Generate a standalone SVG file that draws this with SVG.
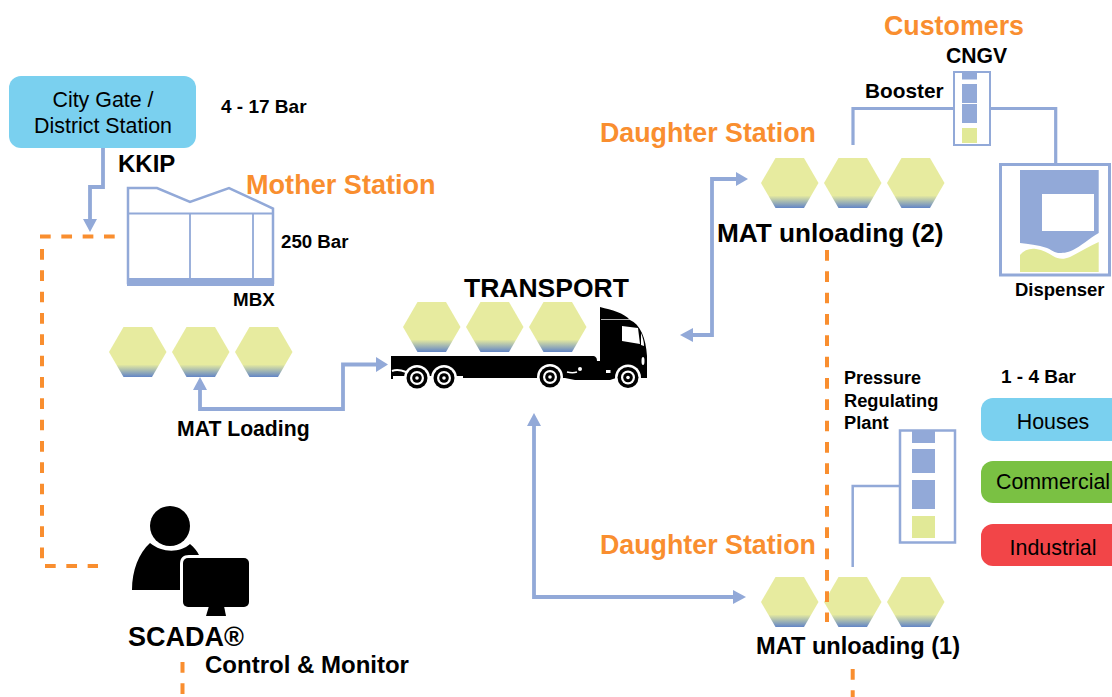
<svg xmlns="http://www.w3.org/2000/svg" width="1112" height="697" viewBox="0 0 1112 697">
<style>
text{font-family:"Liberation Sans",Arial,sans-serif;font-weight:700;fill:#000}
.o{fill:#f98e2f;font-size:26.800px}
.n{font-weight:400;font-size:21.400px;text-anchor:middle}
.b{font-size:18.700px}
.w{fill:none;stroke:#92a9d8;stroke-width:3.200}
.t{fill:none;stroke:#92a9d8;stroke-width:3.800}
.d{fill:none;stroke:#f98e2f;stroke-width:4;stroke-dasharray:10.700 10.630}
.a{fill:#92a9d8}
.f{fill:#92a9d8}
.y{fill:#e1e997}
</style>
<defs>
<linearGradient id="g" x1="0" y1="0" x2="0" y2="1"><stop offset="0.75" stop-color="#e7eb9f"/><stop offset="1" stop-color="#6285c6"/></linearGradient>
<polygon id="hex" points="0,25 14.500,0 43,0 57.500,25 43,50 14.500,50" fill="url(#g)"/>
<g id="wheel"><circle r="13" fill="#fff"/><circle r="10.500" fill="#000"/><circle r="7" fill="#fff"/><circle r="4.800" fill="#000"/><circle r="1.800" fill="#fff"/></g>
</defs>

<g id="city-gate">
<rect x="9" y="76" width="187" height="72" rx="12" fill="#7ad0ef"/>
<text class="n" x="103" y="107">City Gate /</text>
<text class="n" x="103" y="133">District Station</text>
</g>

<g id="mother-station">
<path d="M128 188H157L190 202L229 188L273 208.500V283H128Z" fill="#fff" stroke="#92a9d8" stroke-width="2.500"/>
<path d="M128 213.500H273M190 213.500V281M253 213.500V281" fill="none" stroke="#92a9d8" stroke-width="1.800"/>
<rect x="127" y="278" width="147" height="8" class="f"/>
</g>

<g id="hexes-loading">
<use href="#hex" x="109" y="327"/><use href="#hex" x="172" y="327"/><use href="#hex" x="235" y="327"/>
</g>

<g id="truck">
<use href="#hex" x="403" y="302"/><use href="#hex" x="466" y="302"/><use href="#hex" x="529" y="302"/>
<path d="M391 356H592C596 356 597 358 597 361H600V307C612 310 624 313 630 320C640 324 646 338 647 356V378H616L610 380H575L565 378H463V376H393V379H391Z" fill="#000"/>
<path d="M622 326L638 328L640 344L622 341Z" fill="#fff"/>
<path d="M641 333C643 338 644 342 644 346L641 345Z" fill="#fff"/>
<path d="M601 319.500H630" stroke="#ddd" stroke-width="0.800"/>
<path d="M392 371C397 369 401 370 406 372" stroke="#fff" stroke-width="2" fill="none"/>
<path d="M567 372C571 373 574 373 577 372" stroke="#fff" stroke-width="1.500" fill="none"/>
<ellipse cx="643" cy="361" rx="1.500" ry="4" fill="#fff"/>
<circle cx="580" cy="369" r="2" fill="#fff"/>
<rect x="606" y="370" width="4.500" height="3" fill="#fff"/>
<use href="#wheel" x="417" y="378"/><use href="#wheel" x="444" y="378"/><use href="#wheel" x="550" y="377"/><use href="#wheel" x="628" y="377.500"/>
</g>

<g id="daughter-2">
<use href="#hex" x="761" y="158"/><use href="#hex" x="824" y="158"/><use href="#hex" x="887" y="158"/>
</g>

<g id="booster">
<rect x="954" y="72" width="36" height="73" fill="#fff" stroke="#92a9d8" stroke-width="2"/>
<rect x="962" y="72" width="15" height="7.500" class="f"/>
<rect x="962" y="84" width="15" height="19" class="f"/>
<rect x="962" y="104" width="15" height="19" class="f"/>
<rect x="962" y="128" width="15" height="15" class="y"/>
</g>

<g id="dispenser">
<rect x="1000.500" y="164.500" width="109" height="110.500" fill="#fff" stroke="#92a9d8" stroke-width="3"/>
<path d="M1020 170H1098.700V233C1090 238 1080 247 1073 250C1067 253 1062 253 1058 253C1053 252 1050 249 1047 248C1038 245 1028 244 1020 243Z" class="f"/>
<rect x="1042" y="194" width="52" height="37" fill="#fff"/>
<path d="M1020 272V255C1024 250 1030 248 1036 249C1043 250 1048 253 1053 256C1058 259 1063 260 1070 257C1080 252 1090 246 1098.700 242V272Z" class="y"/>
</g>

<g id="regulator">
<rect x="900" y="430.500" width="55" height="112" fill="#fff" stroke="#92a9d8" stroke-width="2.500"/>
<rect x="912" y="431" width="23" height="12" class="f"/>
<rect x="912" y="449" width="23" height="24" class="f"/>
<rect x="912" y="480" width="23" height="29" class="f"/>
<rect x="912" y="516" width="23" height="22" class="y"/>
</g>

<g id="daughter-1">
<use href="#hex" x="761" y="577"/><use href="#hex" x="824" y="577"/><use href="#hex" x="887" y="577"/>
</g>

<g id="houses"><path d="M1112 398H993A12 12 0 0 0 981 410V429A12 12 0 0 0 993 441H1112Z" fill="#7ad0ef"/><text class="n" x="1053" y="429">Houses</text></g>
<g id="commercial"><path d="M1112 461H993A12 12 0 0 0 981 473V491A12 12 0 0 0 993 503H1112Z" fill="#7ac143"/><text class="n" x="1053" y="489">Commercial</text></g>
<g id="industrial"><path d="M1112 524H993A12 12 0 0 0 981 536V554A12 12 0 0 0 993 566H1112Z" fill="#f24548"/><text class="n" x="1053" y="555">Industrial</text></g>

<g id="scada">
<circle cx="170" cy="526" r="20" fill="#000"/>
<path d="M132 590C132 570 139 553 150 543C162 553 180 553 190 544C194 547 197 551 199 555H189C183 555 180 558 180 564V590Z" fill="#000"/>
<rect x="183" y="558" width="66" height="49" rx="5" fill="#000"/>
<polygon points="209,606 224,606 226,616 206,616" fill="#000"/>
</g>

<g id="connectors">
<path class="t" d="M103 148V187H90V222"/>
<polygon class="a" points="83,219 97,219 90,232"/>
<path class="d" d="M40 236.500H116"/>
<path class="d" d="M42 249V559"/>
<path class="d" d="M45 566H98"/>
<path class="d" d="M182.500 662V697"/>
<path class="d" d="M827 250V622"/>
<path class="d" d="M852.700 669V697"/>
<path class="t" d="M200 389V409H343V364.500H378"/>
<polygon class="a" points="193,390 207,390 200,377"/>
<polygon class="a" points="376,357 376,372 388,364.500"/>
<path class="t" d="M692 335H712V179H737"/>
<polygon class="a" points="693,328 693,342 680,335"/>
<polygon class="a" points="736,172 736,186 748,179"/>
<path class="t" d="M534 425V597H734"/>
<polygon class="a" points="527,426 541,426 534,413"/>
<polygon class="a" points="733,590 733,604 746,597"/>
<path class="w" d="M853 145V108.500H953M991 108.500H1055.700V163"/>
<path d="M852.700 567V486H899" fill="none" stroke="#92a9d8" stroke-width="2.500"/>
</g>

<g id="labels">
<text x="221" y="113" font-size="19">4 - 17 Bar</text>
<text x="118" y="172" font-size="24">KKIP</text>
<text class="o" x="246" y="194" style="font-size:27.100px">Mother Station</text>
<text class="b" x="281" y="248">250 Bar</text>
<text x="233" y="306" font-size="18.800">MBX</text>
<text x="177" y="436" font-size="21.200">MAT Loading</text>
<text x="464" y="297" font-size="26.500">TRANSPORT</text>
<text class="o" x="884" y="35">Customers</text>
<text x="946" y="63" font-size="21.200">CNGV</text>
<text x="865" y="98" font-size="20.800">Booster</text>
<text class="o" x="600" y="142">Daughter Station</text>
<text x="717" y="242" font-size="26.200">MAT unloading (2)</text>
<text x="1015" y="296" font-size="18.500">Dispenser</text>
<text x="844" y="384" font-size="18">Pressure</text>
<text x="844" y="407" font-size="18.300">Regulating</text>
<text x="844" y="429" font-size="18.300">Plant</text>
<text x="1001" y="383" font-size="19">1 - 4 Bar</text>
<text class="o" x="600" y="554">Daughter Station</text>
<text x="756" y="654" font-size="23.600">MAT unloading (1)</text>
<text x="128" y="646" font-size="27">SCADA®</text>
<text x="205" y="673" font-size="24">Control &amp; Monitor</text>
</g>
</svg>
